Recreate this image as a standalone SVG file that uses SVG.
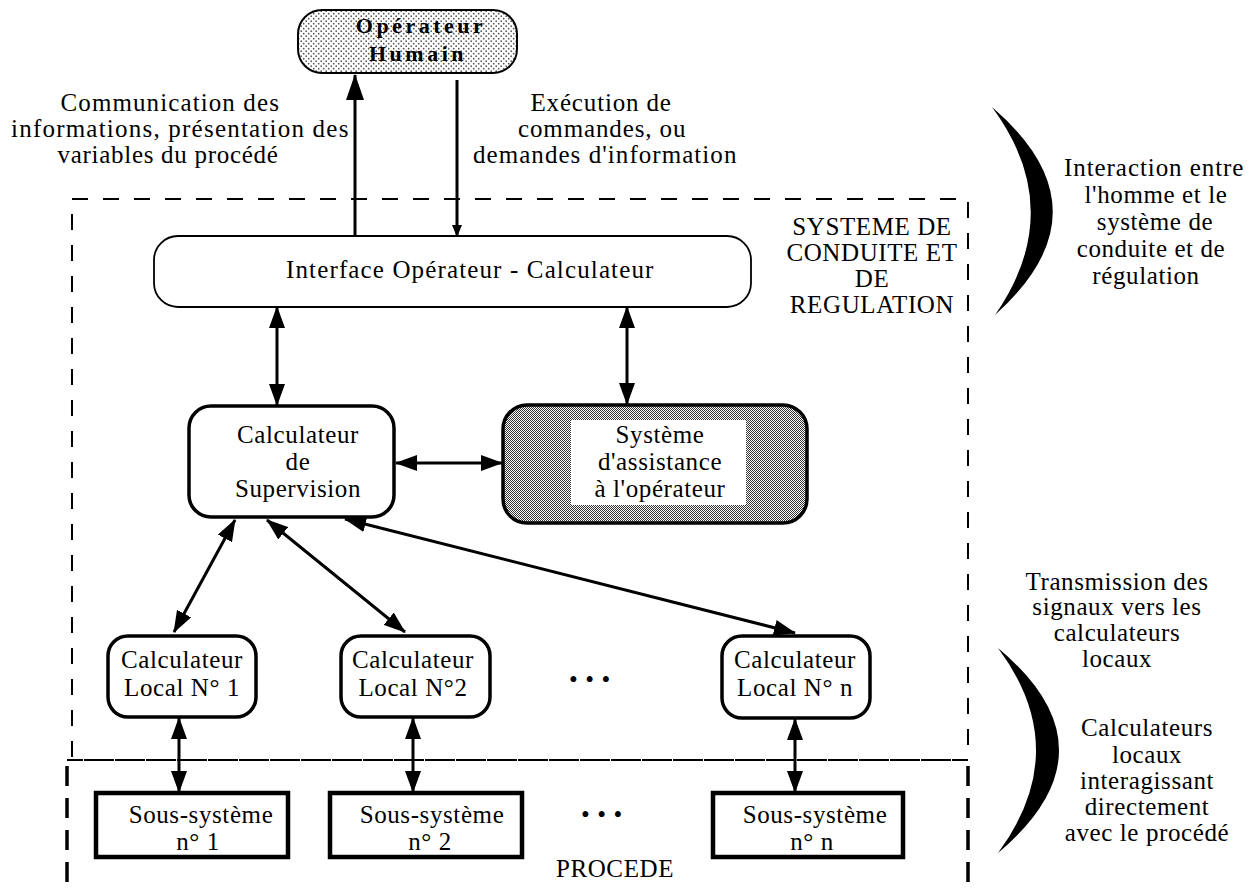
<svg xmlns="http://www.w3.org/2000/svg" width="1250" height="894" viewBox="0 0 1250 894">
<defs>
<style>
text{font-family:"Liberation Serif","Times New Roman",serif;font-size:25px;fill:#000;letter-spacing:0.6px;text-anchor:middle}
.b{font-weight:bold;font-size:22px;letter-spacing:3.5px}
.thin{fill:#fff;stroke:#000;stroke-width:1.8}
.thick{fill:#fff;stroke:#000;stroke-width:3.5}
.ss{fill:#fff;stroke:#000;stroke-width:4.5}
.dash{fill:none;stroke:#000;stroke-width:2;stroke-dasharray:16 15}
.dashT{fill:none;stroke:#000;stroke-width:3.5;stroke-dasharray:20 12}
.c{fill:none;stroke:#000;stroke-width:3}
</style>
<pattern id="dots" width="5" height="5" patternUnits="userSpaceOnUse">
<rect width="5" height="5" fill="#fff"/>
<circle cx="1.2" cy="1.2" r="0.85" fill="#555"/>
<circle cx="3.7" cy="3.7" r="0.85" fill="#555"/>
</pattern>
<pattern id="check" width="2" height="2" patternUnits="userSpaceOnUse">
<rect width="2" height="2" fill="#fff"/>
<rect width="1" height="1" fill="#333"/>
<rect x="1" y="1" width="1" height="1" fill="#333"/>
</pattern>
<marker id="ah" markerUnits="userSpaceOnUse" markerWidth="22" markerHeight="16" refX="21" refY="8" orient="auto-start-reverse">
<path d="M0,0 L22,8 L0,16 z" fill="#000"/>
</marker>
<marker id="ahb" markerUnits="userSpaceOnUse" markerWidth="26" markerHeight="18" refX="25" refY="9" orient="auto">
<path d="M0,0 L26,9 L0,18 z" fill="#000"/>
</marker>
<marker id="ahs" markerUnits="userSpaceOnUse" markerWidth="12" markerHeight="12" refX="11" refY="6" orient="auto">
<path d="M0,1 L12,6 L0,11 z" fill="#000"/>
</marker>
</defs>
<rect width="1250" height="894" fill="#fff"/>

<g id="zones">
<rect class="dash" x="72" y="199" width="896" height="561"/>
<line class="dash" x1="67" y1="760" x2="968" y2="760"/>
<line class="dashT" x1="67" y1="766" x2="67" y2="894"/>
<line class="dashT" x1="968" y1="766" x2="968" y2="894"/>
<text x="872" y="235">SYSTEME DE</text>
<text x="872" y="261">CONDUITE ET</text>
<text x="872" y="287">DE</text>
<text x="872" y="313">REGULATION</text>
<text x="615" y="877">PROCEDE</text>
</g>

<g id="brackets">
<path d="M992,107 Q1112,210 995,315 Q1068,210 992,107 Z" fill="#000"/>
<path d="M998,648 Q1120,750 998,853 Q1074,750 998,648 Z" fill="#000"/>
</g>

<g id="annotations">
<text x="170" y="111" textLength="219">Communication des</text>
<text x="180" y="137" textLength="338">informations, présentation des</text>
<text x="168" y="163" textLength="221">variables du procédé</text>
<text x="601" y="111" textLength="141">Exécution de</text>
<text x="602" y="137" textLength="168">commandes, ou</text>
<text x="605" y="163" textLength="264">demandes d'information</text>
<text x="1064" y="176" textLength="180" style="text-anchor:start">Interaction entre</text>
<text x="1156" y="203">l'homme et le</text>
<text x="1155" y="230">système de</text>
<text x="1151" y="257">conduite et de</text>
<text x="1146" y="284">régulation</text>
<text x="1117" y="590">Transmission des</text>
<text x="1117" y="615">signaux vers les</text>
<text x="1117" y="641">calculateurs</text>
<text x="1117" y="667">locaux</text>
<text x="1147" y="736">Calculateurs</text>
<text x="1147" y="763">locaux</text>
<text x="1147" y="789">interagissant</text>
<text x="1147" y="815">directement</text>
<text x="1147" y="841">avec le procédé</text>
<text x="590" y="688">• • •</text>
<text x="602" y="823">• • •</text>
</g>

<g id="connectors">
<line class="c" x1="355" y1="236" x2="355" y2="75" marker-end="url(#ahb)"/>
<line class="c" x1="457" y1="80" x2="457" y2="236" marker-end="url(#ahs)"/>
<line class="c" x1="277" y1="307" x2="277" y2="405" marker-start="url(#ah)" marker-end="url(#ah)"/>
<line class="c" x1="627" y1="307" x2="627" y2="404" marker-start="url(#ah)" marker-end="url(#ah)"/>
<line class="c" x1="396" y1="463" x2="502" y2="463" marker-start="url(#ah)" marker-end="url(#ah)"/>
<line class="c" x1="235" y1="520" x2="174" y2="632" marker-start="url(#ah)" marker-end="url(#ah)"/>
<line class="c" x1="267" y1="520" x2="405" y2="632" marker-start="url(#ah)" marker-end="url(#ah)"/>
<line class="c" x1="345" y1="519" x2="795" y2="633" marker-start="url(#ah)" marker-end="url(#ah)"/>
<line class="c" x1="179" y1="718" x2="179" y2="792" marker-start="url(#ah)" marker-end="url(#ah)"/>
<line class="c" x1="413" y1="718" x2="413" y2="792" marker-start="url(#ah)" marker-end="url(#ah)"/>
<line class="c" x1="795" y1="719" x2="795" y2="792" marker-start="url(#ah)" marker-end="url(#ah)"/>
</g>

<g id="operateur">
<rect x="298" y="10" width="219" height="63" rx="24" fill="url(#dots)" stroke="#000" stroke-width="2"/>
<text class="b" x="421" y="33">Opérateur</text>
<text class="b" x="418" y="61">Humain</text>
</g>

<g id="interface">
<rect class="thin" x="154" y="236" width="597" height="71" rx="24"/>
<text x="470" y="278" textLength="368">Interface Opérateur - Calculateur</text>
</g>

<g id="supervision">
<rect class="thick" x="189" y="406" width="205" height="111" rx="22"/>
<text x="298" y="443">Calculateur</text>
<text x="298" y="470">de</text>
<text x="298" y="497">Supervision</text>
</g>

<g id="assistance">
<rect x="503" y="405" width="304" height="118" rx="24" fill="url(#check)" stroke="#000" stroke-width="3.5"/>
<rect x="571" y="420" width="175" height="85" fill="#fff"/>
<text x="660" y="443">Système</text>
<text x="660" y="470">d'assistance</text>
<text x="660" y="497">à l'opérateur</text>
</g>

<g id="local1">
<rect class="thick" x="108" y="636" width="148" height="81" rx="20"/>
<text x="182" y="668">Calculateur</text>
<text x="182" y="696">Local N° 1</text>
</g>
<g id="local2">
<rect class="thick" x="341" y="636" width="149" height="81" rx="20"/>
<text x="413" y="668">Calculateur</text>
<text x="413" y="696">Local N°2</text>
</g>
<g id="localn">
<rect class="thick" x="722" y="636" width="148" height="82" rx="20"/>
<text x="795" y="668">Calculateur</text>
<text x="795" y="696">Local N° n</text>
</g>

<g id="ss1">
<rect class="ss" x="96" y="793" width="192" height="64"/>
<text x="201" y="823">Sous-système</text>
<text x="198" y="850">n° 1</text>
</g>
<g id="ss2">
<rect class="ss" x="330" y="793" width="192" height="64"/>
<text x="432" y="823">Sous-système</text>
<text x="430" y="850">n° 2</text>
</g>
<g id="ssn">
<rect class="ss" x="713" y="793" width="190" height="64"/>
<text x="815" y="823">Sous-système</text>
<text x="812" y="850">n° n</text>
</g>
</svg>
